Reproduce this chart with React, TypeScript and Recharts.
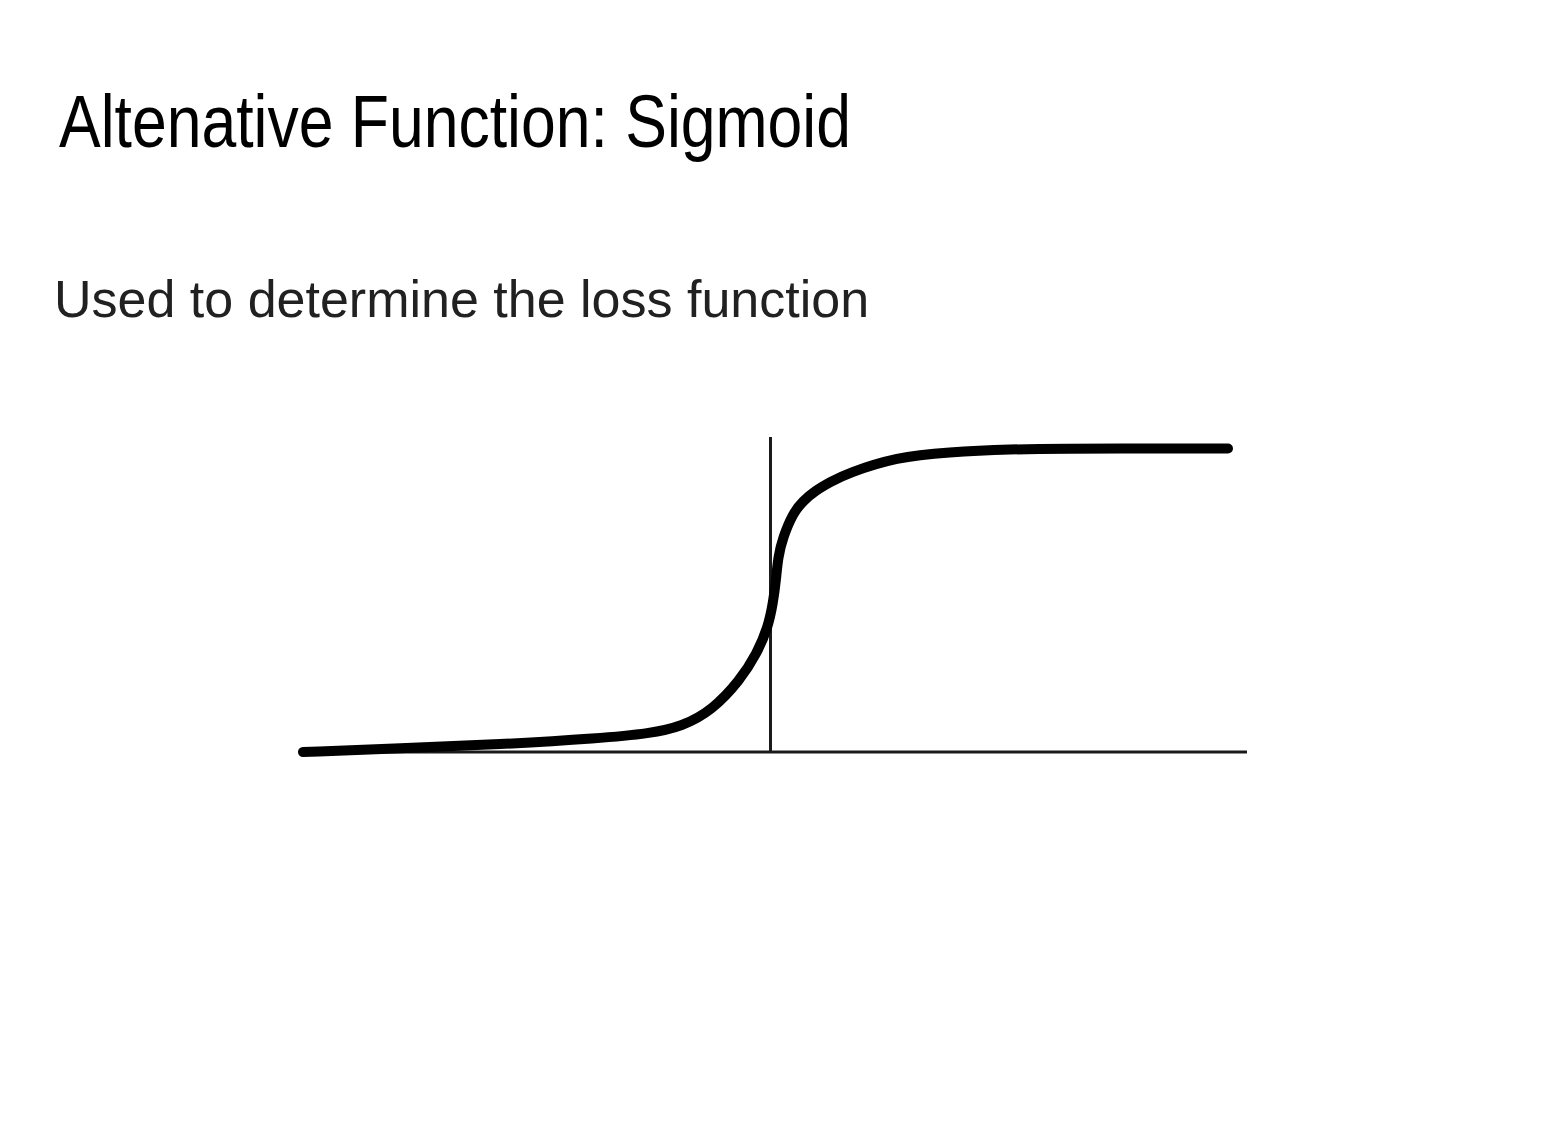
import React from "react";
import { LineChart, Line, XAxis, YAxis, ReferenceLine } from "recharts";

const TITLE = "Altenative Function: Sigmoid";
const SUBTITLE = "Used to determine the loss function";

// Hand-drawn sigmoid curve (vertical axis at x = 0, plateau = 1)
const curveX = [-9.35, -7.41, -5.41, -3.41, -2.41, -1.77, -1.17, -0.61, -0.27, -0.05, 0.05, 0.11, 0.15, 0.25, 0.45, 0.65, 0.89, 1.19, 1.53, 2.53, 3.53, 4.85, 5.79, 7.79, 9.15];
const curveY = [0.0, 0.012, 0.025, 0.045, 0.061, 0.084, 0.137, 0.236, 0.325, 0.411, 0.49, 0.566, 0.642, 0.708, 0.787, 0.827, 0.86, 0.889, 0.918, 0.972, 0.988, 0.998, 0.9995, 1.0, 1.0];

const X_DOMAIN = [-9.41, 9.53];
const Y_DOMAIN = [0, 1.038];

const data = curveX.map((x, i) => ({ x, y: curveY[i] }));

export default function App() {
  return (
    <div
      style={{
        position: "absolute",
        left: 0,
        top: 0,
        width: 1561,
        height: 1138,
        background: "#ffffff",
        overflow: "hidden",
      }}
    >
      <svg width={1561} height={400} style={{ position: "absolute", left: 0, top: 0 }}>
        <text
          x={59}
          y={147}
          fontFamily="'Liberation Sans', Arial, sans-serif"
          fontSize={74}
          fill="#000000"
          textLength={792}
          lengthAdjust="spacingAndGlyphs"
        >
          {TITLE}
        </text>
        <text
          x={54}
          y={317}
          fontFamily="'Liberation Sans', Arial, sans-serif"
          fontSize={52}
          fill="#212121"
        >
          {SUBTITLE}
        </text>
      </svg>
      <div style={{ position: "absolute", left: 280, top: 417 }}>
        <LineChart
          width={987}
          height={355}
          data={data}
          margin={{ top: 20, right: 20, bottom: 20, left: 20 }}
        >
          <XAxis type="number" dataKey="x" domain={X_DOMAIN} hide />
          <YAxis type="number" domain={Y_DOMAIN} hide />
          <ReferenceLine y={0} stroke="#1a1a1a" strokeWidth={3} />
          <ReferenceLine x={0} stroke="#1a1a1a" strokeWidth={3} />
          <Line
            type="basis"
            dataKey="y"
            stroke="#000000"
            strokeWidth={10}
            strokeLinecap="round"
            strokeLinejoin="round"
            dot={false}
            activeDot={false}
            isAnimationActive={false}
          />
        </LineChart>
      </div>
    </div>
  );
}
